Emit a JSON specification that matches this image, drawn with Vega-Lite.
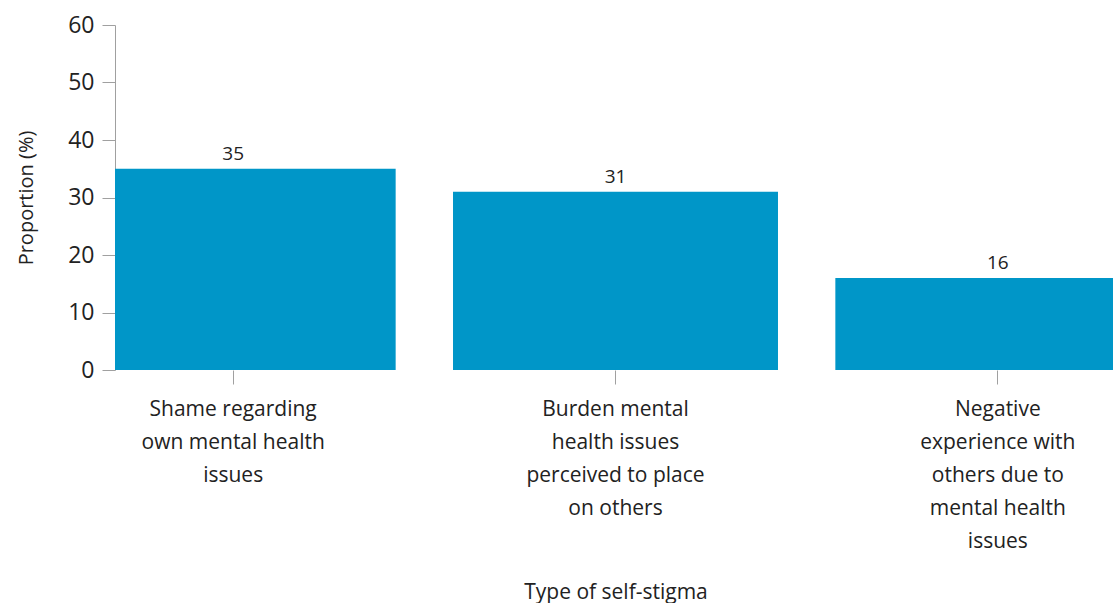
{
  "$schema": "https://vega.github.io/schema/vega-lite/v6.json",
  "autosize": "none",
  "width": 998,
  "height": 345,
  "padding": {"left": 115, "top": 25, "right": 0, "bottom": 233},
  "background": "white",
  "config": {
    "view": {"stroke": null},
    "font": "Open Sans",
    "axis": {"labelFont": "Open Sans", "titleFont": "Open Sans", "labelColor": "#222222", "titleColor": "#222222", "titleFontWeight": "normal", "grid": false}
  },
  "data": {
    "values": [
      {"type": "Shame regarding|own mental health|issues", "proportion": 35},
      {"type": "Burden mental|health issues|perceived to place|on others", "proportion": 31},
      {"type": "Negative|experience with|others due to|mental health|issues", "proportion": 16}
    ]
  },
  "encoding": {
    "x": {
      "field": "type",
      "type": "nominal",
      "sort": null,
      "scale": {"range": [-73, 1074], "paddingInner": 0.15, "paddingOuter": 0.075},
      "axis": {
        "title": "Type of self-stigma",
        "titleFontSize": 21,
        "titlePadding": 30,
        "labelExpr": "split(datum.label, '|')",
        "labelAngle": 0,
        "labelFontSize": 21,
        "labelLineHeight": 33,
        "labelBaseline": "top",
        "labelPadding": 14,
        "labelLimit": 0,
        "tickSize": 14,
        "tickColor": "#a0a0a0",
        "domain": false
      }
    }
  },
  "layer": [
    {
      "mark": {"type": "bar", "color": "#0096c8", "clip": true},
      "encoding": {
        "y": {
          "field": "proportion",
          "type": "quantitative",
          "scale": {"domain": [0, 60], "nice": false},
          "axis": {
            "title": "Proportion (%)",
            "titleFontSize": 20,
            "titlePadding": 31,
            "values": [0, 10, 20, 30, 40, 50, 60],
            "labelFontSize": 23,
            "labelPadding": 8,
            "tickSize": 13,
            "tickColor": "#a0a0a0",
            "domainColor": "#a0a0a0"
          }
        }
      }
    },
    {
      "mark": {"type": "rule", "color": "#a0a0a0", "strokeWidth": 1},
      "encoding": {"y": {"datum": 0, "type": "quantitative"}}
    },
    {
      "mark": {"type": "text", "baseline": "bottom", "dy": -5, "fontSize": 19, "color": "#222222", "font": "Open Sans"},
      "encoding": {
        "y": {"field": "proportion", "type": "quantitative"},
        "text": {"field": "proportion", "type": "quantitative"}
      }
    }
  ]
}
